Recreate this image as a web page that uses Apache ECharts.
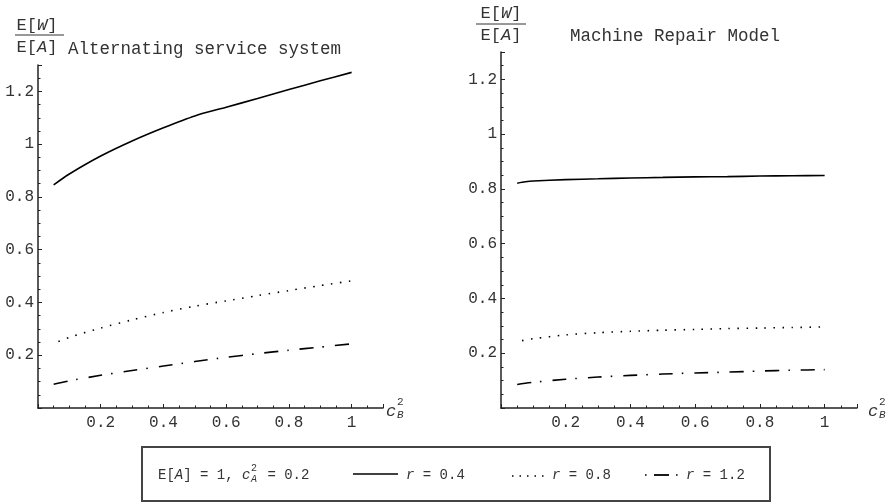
<!DOCTYPE html>
<html>
<head>
<meta charset="utf-8">
<script src="https://cdn.jsdelivr.net/npm/echarts@6/dist/echarts.min.js"></script>
<style>
  html, body { margin: 0; padding: 0; background: #fff; }
  #chart { width: 890px; height: 504px; }
</style>
</head>
<body>
<div id="chart"></div>
<script>
// Normalised waiting time E[W]/E[A] against c_B^2, for three values of r.
const xTicks = [0.2, 0.4, 0.6, 0.8, 1];
const yTicks = [0.2, 0.4, 0.6, 0.8, 1, 1.2];

// Alternating service system
const altX = [0.05, 0.1, 0.2, 0.3, 0.4, 0.5, 0.6, 0.7, 0.8, 0.9, 1.0];
const altR04 = [0.846, 0.887, 0.955, 1.012, 1.062, 1.107, 1.140, 1.173, 1.207, 1.240, 1.272];
const altX08 = [0.065, 0.1, 0.2, 0.3, 0.4, 0.5, 0.6, 0.7, 0.8, 0.9, 1.0];
const altR08 = [0.252, 0.268, 0.303, 0.334, 0.362, 0.386, 0.406, 0.426, 0.445, 0.464, 0.482];
const altR12 = [0.090, 0.103, 0.124, 0.142, 0.159, 0.176, 0.192, 0.206, 0.219, 0.231, 0.243];

// Machine repair model
const mrmX04 = [0.05, 0.075, 0.1, 0.2, 0.3, 0.4, 0.5, 0.6, 0.7, 0.8, 0.9, 1.0];
const mrmR04 = [0.821, 0.826, 0.829, 0.834, 0.837, 0.840, 0.842, 0.844, 0.845, 0.847, 0.848, 0.849];
const mrmX08 = [0.065, 0.1, 0.2, 0.3, 0.4, 0.5, 0.6, 0.7, 0.8, 0.9, 1.0];
const mrmR08 = [0.246, 0.253, 0.267, 0.275, 0.280, 0.284, 0.287, 0.290, 0.292, 0.294, 0.296];
const mrmX12 = [0.05, 0.1, 0.2, 0.3, 0.4, 0.5, 0.6, 0.7, 0.8, 0.9, 1.0];
const mrmR12 = [0.086, 0.094, 0.105, 0.113, 0.119, 0.124, 0.128, 0.131, 0.135, 0.138, 0.140];

const legendNames = ['r = 0.4', 'r = 0.8', 'r = 1.2'];

const MONO = '"Liberation Mono", "Courier New", monospace';
const INK = '#222';
const TXT = '#333';

const pairs = (xs, ys) => xs.map((x, i) => [x, ys[i]]);

const styles = [
  { type: 'solid', width: 1.6 },
  { type: [1.5, 7.5], width: 1.6 },
  { type: [14, 9, 1.5, 11], width: 1.6 }
];

function xAxisFor(gi) {
  return {
    gridIndex: gi, type: 'value', min: 0, max: 1.1, interval: 0.2,
    axisLine: { show: true, onZero: false, lineStyle: { color: INK, width: 1.5 } },
    axisTick: { show: true, inside: true, length: 4, lineStyle: { color: INK, width: 1 } },
    minorTick: { show: true, splitNumber: 4, length: 2.5, lineStyle: { color: INK, width: 1 } },
    splitLine: { show: false },
    axisLabel: {
      showMinLabel: false, showMaxLabel: false, margin: 7,
      fontFamily: MONO, fontSize: 16, color: TXT,
      formatter: v => xTicks.includes(+v.toFixed(2)) ? String(+v.toFixed(2)) : ''
    }
  };
}
function yAxisFor(gi) {
  return {
    gridIndex: gi, type: 'value', min: 0, max: 1.3, interval: 0.2,
    axisLine: { show: true, onZero: false, lineStyle: { color: INK, width: 1.5 } },
    axisTick: { show: true, inside: true, length: 4, lineStyle: { color: INK, width: 1 } },
    minorTick: { show: true, splitNumber: 4, length: 2.5, lineStyle: { color: INK, width: 1 } },
    splitLine: { show: false },
    axisLabel: {
      showMinLabel: false, showMaxLabel: false, margin: 4,
      fontFamily: MONO, fontSize: 16, color: TXT,
      formatter: v => yTicks.includes(+v.toFixed(2)) ? String(+v.toFixed(2)) : ''
    }
  };
}

function line(name, gi, data, st) {
  return {
    name, type: 'line', xAxisIndex: gi, yAxisIndex: gi, data,
    showSymbol: false, symbol: 'none', smooth: 0.25, animation: false,
    lineStyle: { color: '#000', width: st.width, type: st.type, cap: 'butt' },
    silent: true
  };
}

// Fraction label E[W] / E[A] drawn as stacked text with a bar
function fraction(cx, yNum, yBar, yDen, barL, barR) {
  const rich = { i: { fontFamily: MONO, fontSize: 17, fontStyle: 'italic', fill: TXT } };
  return [
    { type: 'text', x: cx, y: yNum, style: { text: 'E[{i|W}]', rich, font: '17px ' + MONO, fill: TXT, align: 'center', verticalAlign: 'middle' } },
    { type: 'line', shape: { x1: barL, y1: yBar, x2: barR, y2: yBar }, style: { stroke: TXT, lineWidth: 1 } },
    { type: 'text', x: cx, y: yDen, style: { text: 'E[{i|A}]', rich, font: '17px ' + MONO, fill: TXT, align: 'center', verticalAlign: 'middle' } }
  ];
}

// c_B^2 axis caption
function cB2(x, y) {
  return [
    { type: 'text', x: x, y: y, style: { text: 'c', font: 'italic 17px ' + MONO, fill: TXT, verticalAlign: 'middle' } },
    { type: 'text', x: x + 11, y: y - 9, style: { text: '2', font: '11px ' + MONO, fill: TXT, verticalAlign: 'middle' } },
    { type: 'text', x: x + 11, y: y + 4, style: { text: 'B', font: 'italic 11px ' + MONO, fill: TXT, verticalAlign: 'middle' } }
  ];
}

const legendY = 475;
const legendFont = '14px ' + MONO;
const italicRich = { i: { fontStyle: 'italic', fontFamily: MONO, fontSize: 14, fill: TXT } };
const legendGraphics = [
  { type: 'rect', shape: { x: 142, y: 447, width: 628, height: 54 }, style: { fill: '#fff', stroke: '#444', lineWidth: 2 } },
  { type: 'text', x: 158, y: legendY, style: { text: 'E[{i|A}] = 1, {i|c}', rich: italicRich, font: legendFont, fill: TXT, verticalAlign: 'middle' } },
  { type: 'text', x: 251, y: legendY - 7, style: { text: '2', font: '10px ' + MONO, fill: TXT, verticalAlign: 'middle' } },
  { type: 'text', x: 251, y: legendY + 4, style: { text: 'A', font: 'italic 10px ' + MONO, fill: TXT, verticalAlign: 'middle' } },
  { type: 'text', x: 259, y: legendY, style: { text: ' = 0.2', font: legendFont, fill: TXT, verticalAlign: 'middle' } },
  // r = 0.4 : solid sample
  { type: 'line', shape: { x1: 353, y1: legendY - 1, x2: 398, y2: legendY - 1 }, style: { stroke: '#000', lineWidth: 1.6 } },
  { type: 'text', x: 406, y: legendY, style: { text: '{i|r} = 0.4', rich: italicRich, font: legendFont, fill: TXT, verticalAlign: 'middle' } },
  // r = 0.8 : dotted sample
  { type: 'line', shape: { x1: 512, y1: legendY + 1, x2: 545, y2: legendY + 1 }, style: { stroke: '#000', lineWidth: 1.5, lineDash: [1.5, 6] } },
  { type: 'text', x: 552, y: legendY, style: { text: '{i|r} = 0.8', rich: italicRich, font: legendFont, fill: TXT, verticalAlign: 'middle' } },
  // r = 1.2 : dot, dash, dot sample
  { type: 'rect', shape: { x: 645, y: legendY - 0.8, width: 1.6, height: 1.6 }, style: { fill: '#000' } },
  { type: 'line', shape: { x1: 654, y1: legendY, x2: 669, y2: legendY }, style: { stroke: '#000', lineWidth: 1.8 } },
  { type: 'rect', shape: { x: 676, y: legendY - 0.8, width: 1.6, height: 1.6 }, style: { fill: '#000' } },
  { type: 'text', x: 686, y: legendY, style: { text: '{i|r} = 1.2', rich: italicRich, font: legendFont, fill: TXT, verticalAlign: 'middle' } }
];

const chart = echarts.init(document.getElementById('chart'), null, { renderer: 'canvas' });
chart.setOption({
  animation: false,
  backgroundColor: '#fff',
  grid: [
    { left: 38, top: 65, width: 345, height: 343 },
    { left: 501, top: 52, width: 356, height: 356 }
  ],
  xAxis: [xAxisFor(0), xAxisFor(1)],
  yAxis: [yAxisFor(0), yAxisFor(1)],
  series: [
    line(legendNames[0], 0, pairs(altX, altR04), styles[0]),
    line(legendNames[1], 0, pairs(altX08, altR08), styles[1]),
    line(legendNames[2], 0, pairs(altX, altR12), styles[2]),
    line(legendNames[0], 1, pairs(mrmX04, mrmR04), styles[0]),
    line(legendNames[1], 1, pairs(mrmX08, mrmR08), styles[1]),
    line(legendNames[2], 1, pairs(mrmX12, mrmR12), styles[2])
  ],
  graphic: [
    ...fraction(37, 25, 35, 47, 15, 64),
    { type: 'text', x: 68, y: 49, style: { text: 'Alternating service system', font: '17.5px ' + MONO, fill: TXT, verticalAlign: 'middle' } },
    ...fraction(501, 13, 24, 35, 476, 526),
    { type: 'text', x: 570, y: 36, style: { text: 'Machine Repair Model', font: '17.5px ' + MONO, fill: TXT, verticalAlign: 'middle' } },
    ...cB2(386, 411),
    ...cB2(868, 411),
    ...legendGraphics
  ]
});
</script>
</body>
</html>
